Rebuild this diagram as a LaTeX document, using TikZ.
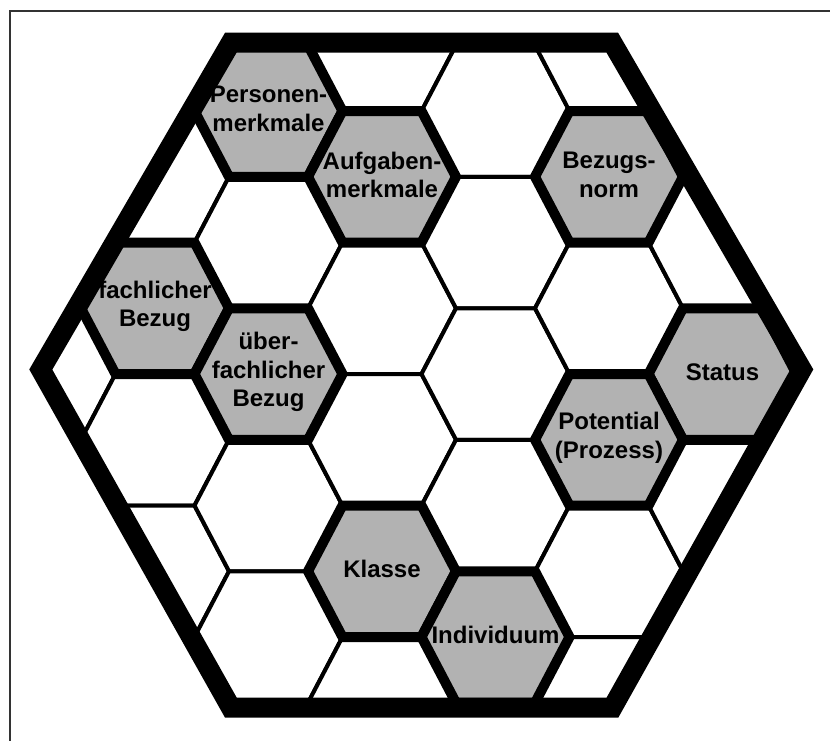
\documentclass[tikz,border=0pt]{standalone}
\usepackage{fontspec}
\setmainfont{Liberation Sans}

\tikzset{
  hexagon/.pic={
    \path[pic actions] (-74,0) -- (-39.5,-65.75) -- (39.5,-65.75)
      -- (74,0) -- (39.5,65.75) -- (-39.5,65.75) -- cycle;
  }
}

\begin{document}
\begin{tikzpicture}[
  x=1pt, y=-1pt,
  cell/.style={draw=black, fill=white, line width=4pt, line join=miter},
  hotcell/.style={draw=black, fill=black!30, line width=10pt, line join=miter},
  rim/.style={draw=black, line width=20pt, line join=miter},
  frame/.style={draw=black!80, line width=2pt},
  celltext/.style={font=\fontsize{24}{28.5}\selectfont\bfseries,
                   align=center, inner sep=0pt, yshift=2pt}
]
  \useasboundingbox (0,0) rectangle (830,740);
  \fill[white] (0,0) rectangle (830,740);
  \draw[frame] (10,11) rectangle (845,755);

  % outer hexagon corners
  \coordinate (r1) at (230.8,42.7);
  \coordinate (r2) at (612.3,42.7);
  \coordinate (r3) at (801.8,369.5);
  \coordinate (r4) at (612.5,707.5);
  \coordinate (r5) at (230.8,707.5);
  \coordinate (r6) at (40.8,369.5);

  \begin{scope}
    \clip (r1) -- (r2) -- (r3) -- (r4) -- (r5) -- (r6) -- cycle;
    % honeycomb
    \foreach \i in {0,...,7}{
      \foreach \j in {-3,...,3}{
        \pgfmathsetmacro\cx{41.5+113.5*\i}
        \pgfmathsetmacro\cy{374+131.5*\j+65.75*mod(\i,2)}
        \pic[cell] at (\cx,\cy) {hexagon};
      }
    }
    % highlighted cells
    \foreach \cx/\cy in {268.5/111, 382/176.75, 609/176.75, 155/308.25,
                         268.5/374, 722.5/374, 609/439.75, 382/571.25,
                         495.5/637}
      \pic[hotcell] at (\cx,\cy) {hexagon};
  \end{scope}

  \draw[rim] (r1) -- (r2) -- (r3) -- (r4) -- (r5) -- (r6) -- cycle;

  \node[celltext] (personen) at (268.5,111) {Personen-\\merkmale};
  \node[celltext] (aufgaben) at (382,176.75) {Aufgaben-\\merkmale};
  \node[celltext] (bezugsnorm) at (609,176.75) {Bezugs-\\norm};
  \node[celltext] (fachlich) at (155,308.25) {fachlicher\\Bezug};
  \node[celltext] (ueberfachlich) at (268.5,374) {über-\\fachlicher\\Bezug};
  \node[celltext] (status) at (722.5,374) {Status};
  \node[celltext] (potential) at (609,439.75) {Potential\\(Prozess)};
  \node[celltext] (klasse) at (382,571.25) {Klasse};
  \node[celltext] (individuum) at (495.5,637) {Individuum};
\end{tikzpicture}
\end{document}
